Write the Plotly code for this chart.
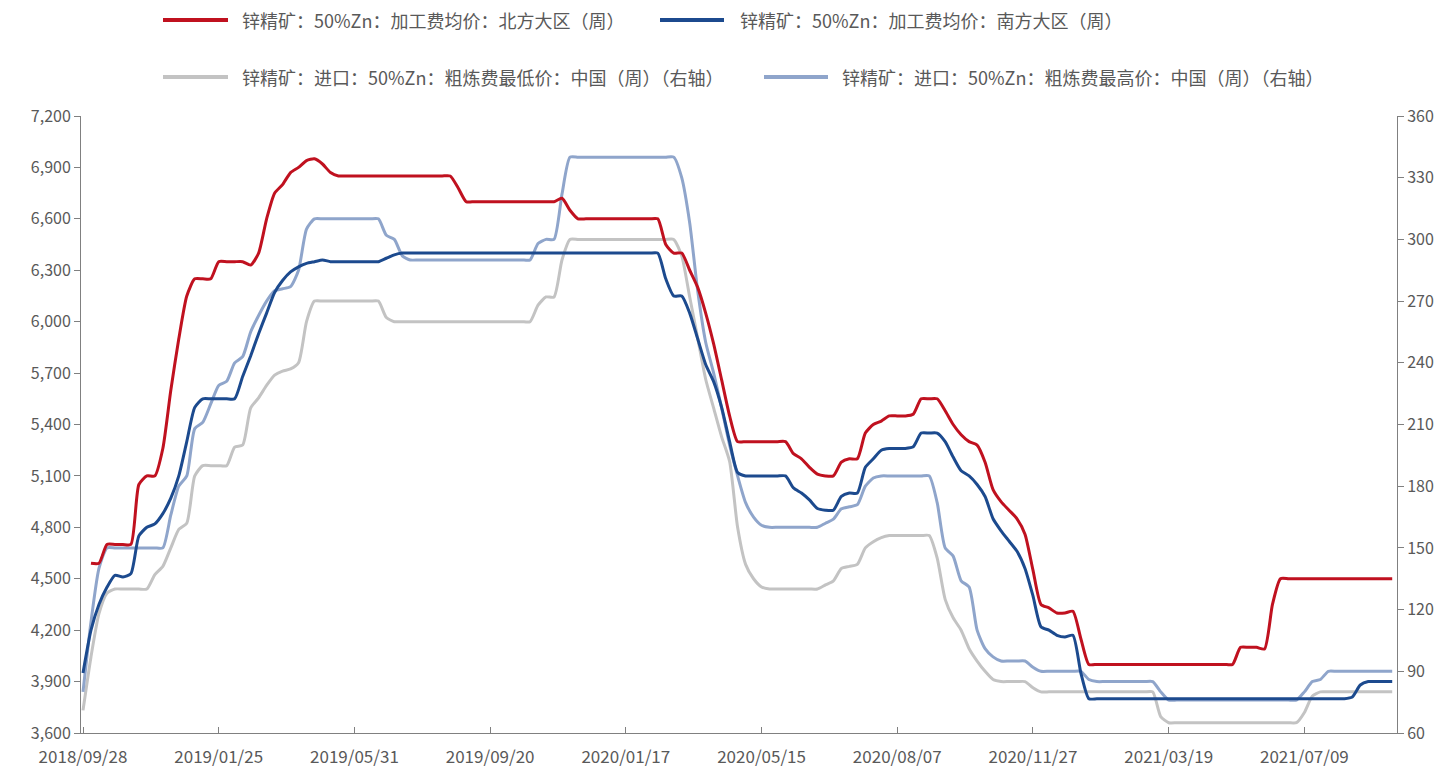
import plotly.graph_objects as go

# ---------------- data ----------------
# weekly observations, index positions on a category-style axis
TICK_LABELS = ["2018/09/28", "2019/01/25", "2019/05/31", "2019/09/20", "2020/01/17",
               "2020/05/15", "2020/08/07", "2020/11/27", "2021/03/19", "2021/07/09"]
TICK_INDEX = [0, 17, 34, 51, 68, 85, 102, 119, 136, 153]

# 锌精矿：50%Zn：加工费均价：北方大区（周）  (left axis, 元/吨)
north_avg = [
    None, 4590, 4590, 4700, 4700, 4700, 4700, 5050, 5100, 5100, 5260, 5600, 5900, 6150, 6250, 6250, 6250,
    6350, 6350, 6350, 6350, 6330, 6400, 6600, 6750, 6800, 6870, 6900, 6940, 6950, 6920, 6870, 6850, 6850,
    6850, 6850, 6850, 6850, 6850, 6850, 6850, 6850, 6850, 6850, 6850, 6850, 6850, 6780, 6700, 6700, 6700,
    6700, 6700, 6700, 6700, 6700, 6700, 6700, 6700, 6700, 6720, 6650, 6600, 6600, 6600, 6600, 6600, 6600,
    6600, 6600, 6600, 6600, 6600, 6450, 6400, 6400, 6300, 6200, 6050, 5870, 5660, 5450, 5300, 5300, 5300,
    5300, 5300, 5300, 5300, 5230, 5200, 5150, 5110, 5100, 5100, 5180, 5200, 5200, 5350, 5400, 5420, 5450,
    5450, 5450, 5460, 5550, 5550, 5550, 5480, 5400, 5340, 5300, 5280, 5180, 5020, 4950, 4900, 4850, 4760,
    4550, 4350, 4330, 4300, 4300, 4310, 4150, 4000, 4000, 4000, 4000, 4000, 4000, 4000, 4000, 4000, 4000,
    4000, 4000, 4000, 4000, 4000, 4000, 4000, 4000, 4000, 4100, 4100, 4100, 4090, 4350, 4500, 4500, 4500,
    4500, 4500, 4500, 4500, 4500, 4500, 4500, 4500, 4500, 4500, 4500, 4500,
]

# 锌精矿：50%Zn：加工费均价：南方大区（周）  (left axis)
south_avg = [
    3950, 4200, 4350, 4450, 4520, 4510, 4530, 4750, 4800, 4820, 4880, 4970, 5100, 5300, 5500, 5550, 5550,
    5550, 5550, 5550, 5680, 5800, 5930, 6050, 6170, 6240, 6290, 6320, 6340, 6350, 6360, 6350, 6350, 6350,
    6350, 6350, 6350, 6350, 6370, 6390, 6400, 6400, 6400, 6400, 6400, 6400, 6400, 6400, 6400, 6400, 6400,
    6400, 6400, 6400, 6400, 6400, 6400, 6400, 6400, 6400, 6400, 6400, 6400, 6400, 6400, 6400, 6400, 6400,
    6400, 6400, 6400, 6400, 6400, 6250, 6150, 6150, 6050, 5900, 5750, 5650, 5500, 5300, 5120, 5100, 5100,
    5100, 5100, 5100, 5100, 5030, 5000, 4960, 4910, 4900, 4900, 4980, 5000, 5000, 5150, 5200, 5250, 5260,
    5260, 5260, 5270, 5350, 5350, 5350, 5300, 5210, 5130, 5100, 5050, 4980, 4850, 4780, 4720, 4660, 4560,
    4400, 4220, 4200, 4170, 4160, 4170, 3950, 3800, 3800, 3800, 3800, 3800, 3800, 3800, 3800, 3800, 3800,
    3800, 3800, 3800, 3800, 3800, 3800, 3800, 3800, 3800, 3800, 3800, 3800, 3800, 3800, 3800, 3800, 3800,
    3800, 3800, 3800, 3800, 3800, 3800, 3810, 3880, 3900, 3900, 3900, 3900,
]

# 锌精矿：进口：50%Zn：粗炼费最低价：中国（周）  (right axis, 美元/干吨)
import_low = [
    71, 97, 118, 128, 130, 130, 130, 130, 130, 137, 141, 150, 159, 162, 185, 190, 190,
    190, 190, 199, 200, 218, 223, 229, 234, 236, 237, 240, 260, 270, 270, 270, 270, 270,
    270, 270, 270, 270, 262, 260, 260, 260, 260, 260, 260, 260, 260, 260, 260, 260, 260,
    260, 260, 260, 260, 260, 260, 268, 272, 272, 290, 300, 300, 300, 300, 300, 300, 300,
    300, 300, 300, 300, 300, 300, 300, 292, 272, 252, 232, 218, 204, 192, 160, 142, 135,
    131, 130, 130, 130, 130, 130, 130, 130, 132, 134, 140, 141, 142, 150, 153, 155, 156,
    156, 156, 156, 156, 156, 145, 125, 116, 110, 101, 95, 90, 86, 85, 85, 85, 85,
    82, 80, 80, 80, 80, 80, 80, 80, 80, 80, 80, 80, 80, 80, 80, 80, 68,
    65, 65, 65, 65, 65, 65, 65, 65, 65, 65, 65, 65, 65, 65, 65, 65, 65,
    70, 78, 80, 80, 80, 80, 80, 80, 80, 80, 80, 80,
]

# 锌精矿：进口：50%Zn：粗炼费最高价：中国（周）  (right axis)
import_high = [
    80, 114, 140, 150, 150, 150, 150, 150, 150, 150, 150, 166, 180, 185, 208, 211, 220,
    229, 231, 240, 243, 255, 263, 270, 275, 276, 277, 285, 305, 310, 310, 310, 310, 310,
    310, 310, 310, 310, 302, 300, 292, 290, 290, 290, 290, 290, 290, 290, 290, 290, 290,
    290, 290, 290, 290, 290, 290, 298, 300, 300, 322, 340, 340, 340, 340, 340, 340, 340,
    340, 340, 340, 340, 340, 340, 340, 330, 308, 275, 250, 235, 218, 200, 185, 172, 165,
    161, 160, 160, 160, 160, 160, 160, 160, 162, 164, 169, 170, 171, 180, 184, 185, 185,
    185, 185, 185, 185, 185, 172, 150, 146, 134, 131, 110, 101, 97, 95, 95, 95, 95,
    92, 90, 90, 90, 90, 90, 90, 86, 85, 85, 85, 85, 85, 85, 85, 85, 80,
    76, 76, 76, 76, 76, 76, 76, 76, 76, 76, 76, 76, 76, 76, 76, 76, 76,
    80, 85, 86, 90, 90, 90, 90, 90, 90, 90, 90, 90,
]

x_idx = list(range(len(south_avg)))
for s in (north_avg, import_low, import_high):
    assert len(s) == len(x_idx)

NAMES = [
    "锌精矿：50%Zn：加工费均价：北方大区（周）",
    "锌精矿：50%Zn：加工费均价：南方大区（周）",
    "锌精矿：进口：50%Zn：粗炼费最低价：中国（周）（右轴）",
    "锌精矿：进口：50%Zn：粗炼费最高价：中国（周）（右轴）",
]
COLORS = ["#C0111F", "#1C4A8E", "#C3C3C3", "#8FA5CB"]

# ---------------- figure geometry ----------------
W, H = 1445, 767
ML, MR, MT, MB = 81, 48, 116, 34
PW, PH = W - ML - MR, H - MT - MB


def paper_x(px):
    return (px - ML) / PW


def paper_y(py):
    return (H - MB - py) / PH


FONT = "Noto Sans CJK SC, Noto Sans, sans-serif"
TXT = "#595959"
AXIS = "#808080"

fig = go.Figure()

line_kw = dict(mode="lines", line_shape="spline", showlegend=False, hoverinfo="x+y+name")

# right-axis series first (drawn underneath)
fig.add_trace(go.Scatter(x=x_idx, y=import_low, name=NAMES[2], yaxis="y",
                         line=dict(color=COLORS[2], width=3, smoothing=0.6), **line_kw))
fig.add_trace(go.Scatter(x=x_idx, y=import_high, name=NAMES[3], yaxis="y",
                         line=dict(color=COLORS[3], width=3, smoothing=0.6), **line_kw))
# left-axis series on the overlaying axis
fig.add_trace(go.Scatter(x=x_idx, y=north_avg, name=NAMES[0], yaxis="y2",
                         line=dict(color=COLORS[0], width=3, smoothing=0.6), **line_kw))
fig.add_trace(go.Scatter(x=x_idx, y=south_avg, name=NAMES[1], yaxis="y2",
                         line=dict(color=COLORS[1], width=3, smoothing=0.6), **line_kw))

axis_common = dict(showgrid=False, zeroline=False, showline=True, linecolor=AXIS, linewidth=1,
                   tickcolor=AXIS, automargin=False)

fig.update_layout(
    width=W, height=H,
    margin=dict(l=ML, r=MR, t=MT, b=MB),
    paper_bgcolor="white", plot_bgcolor="white",
    font=dict(family=FONT, color=TXT),
    xaxis=dict(range=[-0.25, 164.6], tickmode="array", tickvals=TICK_INDEX, ticktext=TICK_LABELS,
               ticks="inside", ticklen=6, ticklabelstandoff=9,
               tickfont=dict(family=FONT, size=17, color=TXT), **axis_common),
    yaxis=dict(side="right", range=[60, 360], dtick=30, tick0=60, ticks="outside", ticklen=6,
               tickfont=dict(family=FONT, size=16, color=TXT), **axis_common),
    yaxis2=dict(side="left", overlaying="y", anchor="x", range=[3600, 7200], dtick=300, tick0=3600,
                tickformat=",", ticks="outside", ticklen=6,
                tickfont=dict(family=FONT, size=16, color=TXT), **axis_common),
)

# legend: two rows of line samples with labels above the plot area
legend_items = [
    (0, 163, 228, 240, 20),
    (1, 660, 724, 738, 20),
    (2, 163, 228, 240, 77),
    (3, 764, 828, 840, 77),
]
for i, x0, x1, xt, yy in legend_items:
    fig.add_shape(type="line", xref="paper", yref="paper",
                  x0=paper_x(x0), x1=paper_x(x1), y0=paper_y(yy), y1=paper_y(yy),
                  line=dict(color=COLORS[i], width=4))
    fig.add_annotation(xref="paper", yref="paper", x=paper_x(xt), y=paper_y(yy),
                       xanchor="left", yanchor="middle", showarrow=False, text=NAMES[i],
                       font=dict(family=FONT, size=18, color=TXT))

fig.write_html("out.html")
